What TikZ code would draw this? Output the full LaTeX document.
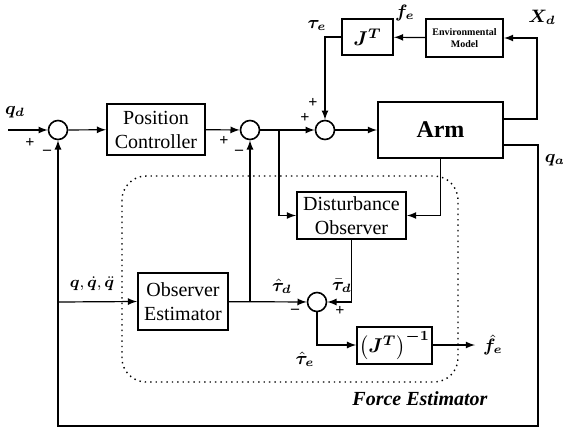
\documentclass[tikz,border=0pt]{standalone}
\usepackage{fontspec}
\setmainfont{Liberation Serif}
\usepackage{amsmath}
\usepackage{bm}

\begin{document}
\begin{tikzpicture}
  [x=0.5pt,y=-0.5pt,>=latex,line width=0.6pt,
   blk/.style={draw,line width=1pt,align=center,inner sep=1pt},
   sum/.style={circle,draw,line width=0.8pt,minimum size=9.5pt,inner sep=0pt},
   lbl/.style={inner sep=0pt,font=\small},
   sgn/.style={inner sep=0pt,font=\footnotesize\bfseries}]
  \useasboundingbox (0,0) rectangle (563,430);

  \draw[dotted,line width=0.7pt,rounded corners=12pt] (122,176) rectangle (458,382);

  \node[sum] (s1) at (58,130) {};
  \node[sum] (s2) at (250,130) {};
  \node[sum] (s3) at (325,130) {};
  \node[sum] (s4) at (317,302) {};

  \node[blk,minimum width=49pt,minimum height=25.5pt] (pc) at (156,129.5) {Position\\Controller};
  \node[blk,minimum width=62.5pt,minimum height=28pt,font=\large\bfseries] (arm) at (440.5,130) {Arm};
  \node[blk,minimum width=25.5pt,minimum height=18pt] (jt) at (367.5,37) {$\bm{J}^{\bm{T}}$};
  \node[blk,minimum width=38.5pt,minimum height=19pt,font=\tiny\bfseries] (env) at (464.5,38) {Environmental\\Model};
  \node[blk,minimum width=54.5pt,minimum height=23.5pt] (do) at (351.5,215.5) {Disturbance\\Observer};
  \node[blk,minimum width=45pt,minimum height=28.5pt] (oe) at (183,301.5) {Observer\\Estimator};
  \node[blk,minimum width=25.5pt,minimum height=18.5pt] (jinv) at (394.5,345) {$\left(\bm{J}^{\bm{T}}\right)^{\bm{-1}}$};

  \coordinate (in) at (8,130);
  \coordinate (b1) at (279,130);
  \coordinate (b2) at (250,302);
  \coordinate (c1) at (538,426);
  \coordinate (c2) at (58,302);
  \coordinate (xs) at (537,38);
  \coordinate (out) at (475,345);

  \draw[->] (in) -- (s1);
  \draw[->] (s1) -- (pc);
  \draw[->] (pc) -- (s2);
  \draw[->] (s2) -- (s3);
  \draw[->] (b1) |- (do.west);
  \draw[->] (s3) -- (arm);
  \draw[->] ([yshift=5.5pt]arm.east) -| (xs) -- (env.east);
  \draw[->] (env) -- (jt);
  \draw[->] (jt.west) -| (s3.north);
  \draw[->] ([yshift=-7.5pt]arm.east) -| (c1) -| (s1.south);
  \draw[->] (arm.south) |- (do.east);
  \draw[->] (c2) -- (oe.west);
  \draw[->] (oe) -- (s4);
  \draw[->] (b2) -- (s2.south);
  \draw[->] (do.south) |- (s4.east);
  \draw[->] (s4.south) |- (jinv.west);
  \draw[->] (jinv) -- (out);

  \node[lbl] (qd) at (15,112) {$\bm{q_d}$};
  \node[sgn] (p1) at (30,143) {+};
  \node[sgn] (m1) at (47,152) {--};
  \node[sgn] (p2) at (224,141) {+};
  \node[sgn] (m2) at (239,152) {--};
  \node[sgn] (p3) at (305,118) {+};
  \node[sgn] (p4) at (313,103) {+};
  \node[sgn] (m4) at (295,311) {--};
  \node[sgn] (p5) at (340,311) {+};
  \node[lbl] (taue) at (317,25) {$\bm{\tau_e}$};
  \node[lbl] (fe) at (405,13) {$\bm{f_e}$};
  \node[lbl] (xd) at (542,17) {$\bm{X_d}$};
  \node[lbl] (qa) at (555,160) {$\bm{q_a}$};
  \node[lbl,font=\footnotesize] (qqq) at (92,284) {$\bm{q},\dot{\bm{q}},\ddot{\bm{q}}$};
  \node[lbl] (thd) at (282,286) {$\hat{\bm{\tau}}_{\bm{d}}$};
  \node[lbl] (tbd) at (342,286) {$\bar{\bm{\tau}}_{\bm{d}}$};
  \node[lbl] (the) at (305,359) {$\hat{\bm{\tau}}_{\bm{e}}$};
  \node[lbl] (fhe) at (493,345) {$\hat{\bm{f}}_{\bm{e}}$};
  \node[inner sep=0pt,font=\bfseries\itshape] (fest) at (420,399) {Force Estimator};
\end{tikzpicture}
\end{document}
